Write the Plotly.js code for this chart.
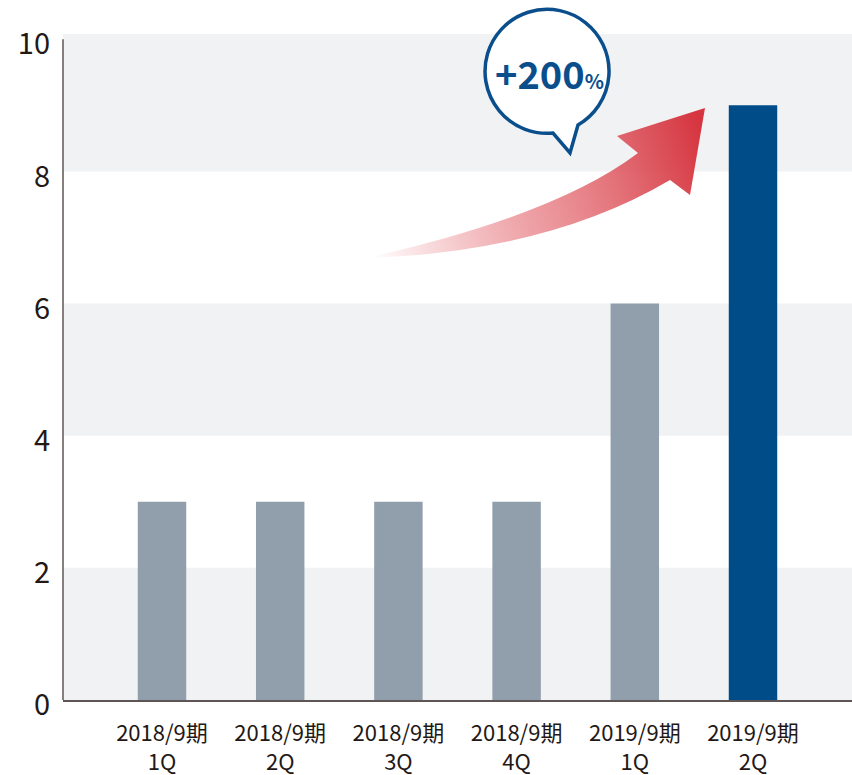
<!DOCTYPE html>
<html>
<head>
<meta charset="utf-8">
<script src="https://cdn.plot.ly/plotly-3.0.1.min.js"></script>
<style>html,body{margin:0;padding:0;background:#fff;}#chart{width:852px;height:775px;}</style>
</head>
<body>
<div id="chart"></div>
<script>
const periods = ['2018/9期','2018/9期','2018/9期','2018/9期','2019/9期','2019/9期'];
const quarters = ['1Q','2Q','3Q','4Q','1Q','2Q'];
const values = [3, 3, 3, 3, 6, 9];
const barColors = ['#919fac','#919fac','#919fac','#919fac','#919fac','#004c88'];
const yTicks = [0, 2, 4, 6, 8, 10];
const bandRanges = [[0, 2], [4, 6], [8, 10.08]];
const growthLabel = '+200';

const xIdx = periods.map((p, i) => i);
const tickText = periods.map((p, i) => p + '<br>' + quarters[i]);

const W = 852, H = 775, L = 63, R = 0, T = 34, B = 75;
const pw = W - L - R, ph = H - T - B;

const svg = `<svg xmlns="http://www.w3.org/2000/svg" width="852" height="775" viewBox="0 0 852 775" preserveAspectRatio="none">
<defs><linearGradient id="g" gradientUnits="userSpaceOnUse" x1="370" y1="250" x2="705" y2="140">
<stop offset="0" stop-color="#e35a62" stop-opacity="0"/>
<stop offset="0.45" stop-color="#e46f76" stop-opacity="0.65"/>
<stop offset="1" stop-color="#d6353f" stop-opacity="1"/>
</linearGradient></defs>
<path d="M370,257 Q556,215 638,153 L617,136 L705,108 L690,195 L670,180 Q550,251 370,258 Z" fill="url(#g)"/>
<path d="M578,125 A62,62 0 1 0 553,133 L570,153 Z" fill="#ffffff" stroke="#0b4e8c" stroke-width="3.5" stroke-linejoin="miter"/>
</svg>`;
const svgUri = 'data:image/svg+xml;base64,' + btoa(svg);

const shapes = bandRanges.map(r => ({
  type: 'rect', xref: 'paper', yref: 'y', x0: 0, x1: 1, y0: r[0], y1: r[1],
  fillcolor: '#f1f2f4', line: {width: 0}, layer: 'below'
}));
shapes.push({type: 'line', xref: 'paper', yref: 'y', x0: 0, x1: 0, y0: 0, y1: 10,
  line: {color: '#5e5654', width: 1.5}, layer: 'above'});

const data = [{
  type: 'bar', x: xIdx, y: values, width: 0.41,
  marker: {color: barColors, line: {width: 0}},
  hoverinfo: 'skip'
}];

const layout = {
  width: W, height: H,
  margin: {l: L, r: R, t: T, b: B, pad: 0},
  paper_bgcolor: '#ffffff', plot_bgcolor: '#ffffff',
  showlegend: false,
  font: {family: '"Noto Sans CJK JP", "Noto Sans", sans-serif', color: '#231815'},
  xaxis: {
    range: [-0.8376, 5.8376], tickmode: 'array', tickvals: xIdx, ticktext: tickText,
    showgrid: false, zeroline: false, showline: true, linecolor: '#5e5654', linewidth: 1.5,
    ticks: '', tickfont: {size: 22, color: '#231815'}, ticklabelstandoff: 13, fixedrange: true
  },
  yaxis: {
    range: [0, 10.08], tickmode: 'array', tickvals: yTicks, ticktext: yTicks.map(String),
    showgrid: false, zeroline: false, showline: false, ticks: '',
    tickfont: {size: 29, color: '#231815'}, ticklabelstandoff: 12, ticklabelshift: 5, fixedrange: true
  },
  shapes: shapes,
  images: [{
    source: svgUri, xref: 'paper', yref: 'paper',
    x: -L / pw, y: (H - B) / ph, sizex: W / pw, sizey: H / ph,
    xanchor: 'left', yanchor: 'top', sizing: 'stretch', layer: 'above'
  }],
  annotations: [{
    xref: 'paper', yref: 'paper', x: (549 - L) / pw, y: (H - B - 73) / ph,
    xanchor: 'center', yanchor: 'middle', showarrow: false,
    text: growthLabel + '<span style="font-size:20px">%</span>',
    font: {size: 38, color: '#0b4e8c', weight: 700, family: '"Noto Sans CJK JP", sans-serif'}
  }]
};

Plotly.newPlot('chart', data, layout, {displayModeBar: false, staticPlot: true});
</script>
</body>
</html>
